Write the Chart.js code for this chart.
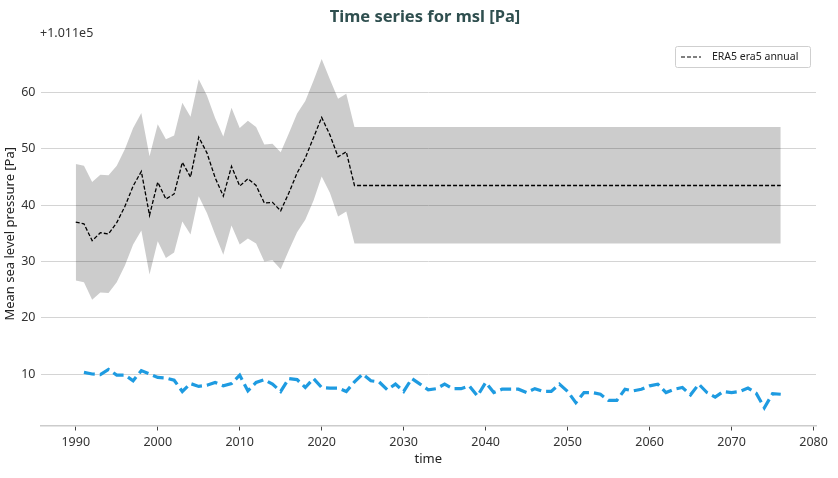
<!DOCTYPE html>
<html>
<head>
<meta charset="utf-8">
<script src="https://cdn.jsdelivr.net/npm/chart.js@4.4.1/dist/chart.umd.min.js"></script>
<style>
  html, body { margin: 0; padding: 0; background: #fff; }
</style>
</head>
<body>
<canvas id="myChart" width="838" height="478"></canvas>
<script>
const ctx = document.getElementById('myChart');
const fontFam = '"Noto Sans", "DejaVu Sans", sans-serif';

// ERA5 annual mean and spread (pressure minus 1.011e5 Pa)
const eraYears = [1990, 1991, 1992, 1993, 1994, 1995, 1996, 1997, 1998, 1999,
  2000, 2001, 2002, 2003, 2004, 2005, 2006, 2007, 2008, 2009,
  2010, 2011, 2012, 2013, 2014, 2015, 2016, 2017, 2018, 2019,
  2020, 2021, 2022, 2023, 2024, 2076];
const eraMean = [37.0, 36.7, 33.7, 35.1, 34.9, 36.9, 39.8, 43.4, 46.0, 38.2,
  44.1, 41.1, 42.0, 47.6, 45.0, 52.1, 49.3, 44.9, 41.6, 46.9,
  43.4, 44.7, 43.5, 40.4, 40.5, 39.0, 42.2, 45.7, 48.4, 52.0,
  55.6, 52.5, 48.6, 49.5, 43.5, 43.5];
const eraHigh = [47.3, 47.0, 44.1, 45.4, 45.3, 47.0, 50.0, 53.7, 56.4, 48.7,
  54.4, 51.7, 52.4, 58.2, 55.7, 62.4, 59.5, 55.5, 52.2, 57.3,
  53.7, 55.0, 53.9, 50.8, 50.9, 49.4, 52.8, 56.3, 58.5, 62.1,
  66.0, 62.4, 58.9, 59.8, 53.9, 53.9];
const eraLow = [26.6, 26.3, 23.2, 24.5, 24.4, 26.3, 29.3, 33.0, 35.5, 27.7,
  33.6, 30.6, 31.6, 37.1, 34.8, 41.6, 38.6, 34.8, 31.2, 36.4,
  33.0, 34.1, 33.2, 30.0, 30.2, 28.6, 32.0, 35.2, 37.4, 40.8,
  45.1, 42.2, 38.0, 38.9, 33.2, 33.2];

// model run
const runYears = [1991, 1992, 1993, 1994, 1995, 1996, 1997, 1998, 1999, 2000,
  2001, 2002, 2003, 2004, 2005, 2006, 2007, 2008, 2009, 2010,
  2011, 2012, 2013, 2014, 2015, 2016, 2017, 2018, 2019, 2020,
  2021, 2022, 2023, 2024, 2025, 2026, 2027, 2028, 2029, 2030,
  2031, 2032, 2033, 2034, 2035, 2036, 2037, 2038, 2039, 2040,
  2041, 2042, 2043, 2044, 2045, 2046, 2047, 2048, 2049, 2050,
  2051, 2052, 2053, 2054, 2055, 2056, 2057, 2058, 2059, 2060,
  2061, 2062, 2063, 2064, 2065, 2066, 2067, 2068, 2069, 2070,
  2071, 2072, 2073, 2074, 2075, 2076];
const runValues = [10.3, 10.0, 9.9, 10.8, 9.8, 9.8, 8.8, 10.6, 10.0, 9.4,
  9.3, 8.9, 6.9, 8.3, 7.8, 8.0, 8.5, 7.9, 8.3, 9.8,
  7.0, 8.5, 9.0, 8.2, 6.9, 9.2, 9.0, 7.6, 9.2, 7.6,
  7.5, 7.5, 6.9, 8.6, 10.0, 8.8, 8.6, 7.2, 8.2, 6.9,
  9.2, 8.2, 7.2, 7.4, 8.2, 7.4, 7.4, 7.9, 6.1, 8.5,
  6.7, 7.3, 7.3, 7.3, 6.7, 7.4, 6.9, 6.9, 8.2, 6.9,
  4.9, 6.7, 6.7, 6.4, 5.3, 5.3, 7.3, 7.0, 7.3, 7.9,
  8.2, 6.7, 7.3, 7.6, 6.3, 8.2, 6.7, 5.9, 6.9, 6.7,
  6.9, 7.5, 6.6, 4.0, 6.5, 6.4];

const xTicks = [1990, 2000, 2010, 2020, 2030, 2040, 2050, 2060, 2070, 2080];
const yTicks = [10, 20, 30, 40, 50, 60];

const pts = (xs, ys) => xs.map((x, i) => ({ x: x, y: ys[i] }));

// titulo, offset e legenda desenhados no canvas
const extras = {
  id: 'extras',
  afterDraw(chart) {
    const c = chart.ctx;
    c.save();
    c.fillStyle = '#2f4f4f';
    c.font = 'bold 16.5px ' + fontFam;
    c.textAlign = 'center';
    c.textBaseline = 'middle';
    c.fillText('Time series for msl [Pa]', 425, 17);

    c.fillStyle = '#333';
    c.font = '12.5px ' + fontFam;
    c.textAlign = 'left';
    c.fillText('+1.011e5', 40, 33);

    // legend box
    c.beginPath();
    c.roundRect(675.5, 46.5, 135, 21, 2);
    c.fillStyle = 'rgba(255,255,255,0.85)';
    c.fill();
    c.strokeStyle = '#cfcfcf';
    c.lineWidth = 1;
    c.stroke();
    c.beginPath();
    c.setLineDash([4, 2]);
    c.strokeStyle = '#000';
    c.moveTo(681, 57);
    c.lineTo(701, 57);
    c.stroke();
    c.setLineDash([]);
    c.fillStyle = '#222';
    c.font = '10.5px ' + fontFam;
    c.fillText('ERA5 era5 annual', 712, 57);
    c.restore();
  }
};

new Chart(ctx, {
  type: 'line',
  data: {
    datasets: [
      {
        label: 'era5 high',
        data: pts(eraYears, eraHigh),
        borderWidth: 0,
        pointRadius: 0,
        fill: false
      },
      {
        label: 'era5 low',
        data: pts(eraYears, eraLow),
        borderWidth: 0,
        pointRadius: 0,
        backgroundColor: 'rgba(0,0,0,0.2)',
        fill: '-1'
      },
      {
        label: 'ERA5 era5 annual',
        data: pts(eraYears, eraMean),
        borderColor: '#000',
        borderWidth: 1.3,
        borderDash: [4, 2],
        pointRadius: 0,
        fill: false
      },
      {
        label: 'run',
        data: pts(runYears, runValues),
        borderColor: 'rgb(30,155,225)',
        borderWidth: 3.2,
        borderDash: [11, 5],
        borderCapStyle: 'butt',
        pointRadius: 0,
        fill: false
      }
    ]
  },
  options: {
    responsive: false,
    animation: false,
    layout: { padding: { top: 42, right: 22, left: 0, bottom: 0 } },
    plugins: {
      legend: { display: false },
      title: { display: false },
      tooltip: { enabled: false }
    },
    scales: {
      x: {
        type: 'linear',
        min: 1985.7,
        max: 2080.3,
        afterBuildTicks: s => { s.ticks = xTicks.map(v => ({ value: v })); },
        afterFit: s => { s.height = 52.5; },
        ticks: {
          autoSkip: false,
          maxRotation: 0,
          padding: 4,
          color: '#333',
          font: { family: fontFam, size: 12.5 },
          callback: v => String(v)
        },
        grid: { drawOnChartArea: false, tickLength: 5, tickColor: '#444' },
        border: { color: '#cccccc', width: 1.5 },
        title: {
          display: true,
          text: 'time',
          color: '#222',
          font: { family: fontFam, size: 13 },
          padding: { top: 0, bottom: 11 }
        }
      },
      y: {
        min: 0.85,
        max: 69,
        afterBuildTicks: s => { s.ticks = yTicks.map(v => ({ value: v })); },
        afterFit: s => { s.width = 40.5; },
        ticks: {
          padding: 5,
          color: '#333',
          font: { family: fontFam, size: 12.5 }
        },
        grid: { color: '#d4d4d4', drawTicks: false },
        border: { display: false },
        title: {
          display: true,
          text: 'Mean sea level pressure [Pa]',
          color: '#222',
          font: { family: fontFam, size: 13 },
          padding: { top: 2, bottom: 0 }
        }
      }
    }
  },
  plugins: [extras]
});
</script>
</body>
</html>
